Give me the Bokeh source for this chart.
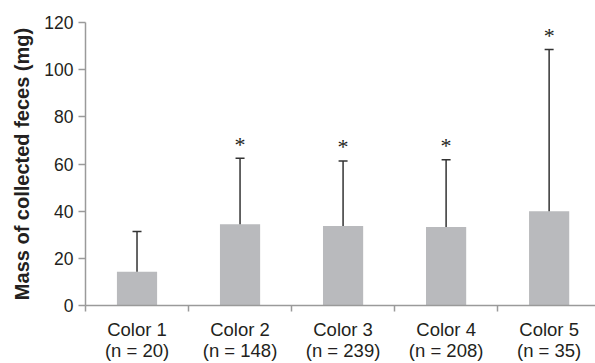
import numpy as np
from bokeh.plotting import figure
from bokeh.models import Range1d, FixedTicker, LinearAxis, ColumnDataSource
from bokeh.core.properties import value
from bokeh.embed import file_html
from bokeh.resources import INLINE

# ---- data ----
categories = ["Color 1", "Color 2", "Color 3", "Color 4", "Color 5"]
n_counts = [20, 148, 239, 208, 35]
means = [14.3, 34.4, 33.7, 33.3, 40.0]
sds = [17.1, 28.0, 27.6, 28.5, 68.5]
significant = [False, True, True, True, True]
y_ticks = [0, 20, 40, 60, 80, 100, 120]

# ---- styles ----
BAR = "#b9babd"
AXIS = "#9a9a9a"
TXT = "#231f20"
ERR = "#333333"
FONT = "Liberation Sans"

xc = np.arange(len(categories)) + 0.5
upper = np.array(means) + np.array(sds)

p = figure(width=595, height=363, output_backend="svg", toolbar_location=None,
           x_range=Range1d(0, 4.95), y_range=Range1d(0, 120),
           x_axis_type=None, y_axis_type=None,
           min_border_left=85, min_border_right=0, min_border_top=22, min_border_bottom=56)
p.outline_line_color = None
p.xgrid.visible = False
p.ygrid.visible = False
p.background_fill_color = "white"
p.border_fill_color = "white"

src = ColumnDataSource(dict(x=xc, mean=means, upper=upper))
p.vbar(x="x", top="mean", bottom=0, width=0.39, source=src,
       fill_color=BAR, line_color=None)
p.segment(x0="x", y0="mean", x1="x", y1="upper", source=src,
          line_color=ERR, line_width=1.5)
p.scatter(x="x", y="upper", marker="dash", size=9, source=src,
          line_color=ERR, line_width=1.5)

sig_x = [x for x, s in zip(xc, significant) if s]
sig_y = [u for u, s in zip(upper, significant) if s]
p.text(x=sig_x, y=sig_y, text=["*"] * len(sig_x), text_align="center",
       text_baseline="alphabetic", y_offset=-14,
       text_font=value("Liberation Serif"), text_font_size="22px", text_color=TXT)

# y axis
ya = LinearAxis(ticker=FixedTicker(ticks=y_ticks),
                axis_label="Mass of collected feces (mg)")
ya.axis_line_color = AXIS
ya.axis_line_width = 1.5
ya.major_tick_line_color = AXIS
ya.major_tick_line_width = 1.5
ya.major_tick_out = 7
ya.major_tick_in = 0
ya.minor_tick_line_color = None
ya.major_label_text_font = FONT
ya.major_label_text_font_size = "17.5px"
ya.major_label_text_color = TXT
ya.major_label_standoff = 5
ya.axis_label_text_font = FONT
ya.axis_label_text_font_style = "bold"
ya.axis_label_text_font_size = "20px"
ya.axis_label_text_color = TXT
ya.axis_label_standoff = 8
p.add_layout(ya, "left")

# x axis: labels at centres, ticks at category boundaries
xa = LinearAxis(ticker=FixedTicker(ticks=list(xc),
                                   minor_ticks=list(range(len(categories) + 1))))
xa.major_label_overrides = {float(x): f"{c}\n(n = {n})"
                            for x, c, n in zip(xc, categories, n_counts)}
xa.axis_line_color = AXIS
xa.axis_line_width = 1.5
xa.major_tick_line_color = None
xa.major_tick_out = 0
xa.major_tick_in = 0
xa.minor_tick_line_color = AXIS
xa.minor_tick_line_width = 1.5
xa.minor_tick_out = 6
xa.minor_tick_in = 0
xa.major_label_text_font = FONT
xa.major_label_text_font_size = "18.5px"
xa.major_label_text_color = TXT
xa.major_label_text_line_height = 1.0
xa.major_label_standoff = 7
p.add_layout(xa, "below")

open("out.html", "w").write(file_html(p, INLINE))
